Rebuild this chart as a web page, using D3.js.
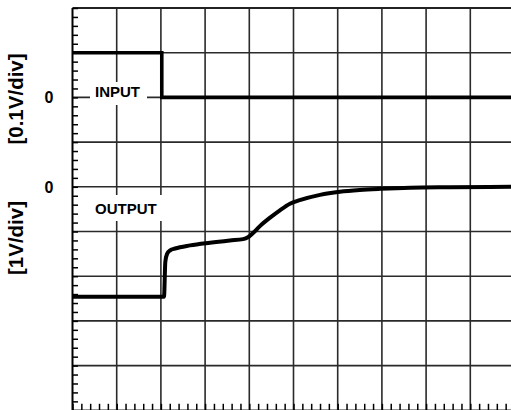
<!DOCTYPE html>
<html>
<head>
<meta charset="utf-8">
<script src="https://cdn.jsdelivr.net/npm/d3@7/dist/d3.min.js"></script>
<style>
  html, body { margin: 0; padding: 0; background: #fff; }
  svg { display: block; }
  text { font-family: "Liberation Sans", Arial, sans-serif; font-weight: bold; fill: #000; }
</style>
</head>
<body>
<svg id="chart" width="511" height="410"></svg>
<script>
// Time axis in divisions (10 horizontal divisions)
const inputTime = [0, 2.02, 2.02, 10];
const inputVolts = [0.1, 0.1, 0, 0];          // input channel, 0.1 V/div

const outputTime = [0, 2.07, 2.1, 2.14, 2.21, 2.32, 2.66, 3.11, 3.56, 3.86, 3.97,
                    4.09, 4.24, 4.47, 4.70, 4.92, 5.14, 5.60, 6.05, 6.50, 6.96,
                    7.64, 8.54, 10];
const outputVolts = [-2.46, -2.46, -1.68, -1.50, -1.42, -1.38, -1.31, -1.25, -1.20, -1.17, -1.13,
                     -1.03, -0.88, -0.69, -0.52, -0.38, -0.30, -0.18, -0.11, -0.07, -0.045,
                     -0.02, -0.01, 0];

const axisLabels = ["[0.1V/div]", "[1V/div]"];
const zeroLabels = ["0", "0"];
const traceNames = ["INPUT", "OUTPUT"];

const svg = d3.select("#chart");

// Graticule geometry
const gridLeft = 72.5, divW = 44.2, gridTop = 8, divH = 44.7;
const nx = 10, ny = 9;

const x = d3.scaleLinear().domain([0, nx]).range([gridLeft, gridLeft + nx * divW]);
const yDiv = d3.scaleLinear().domain([0, ny]).range([gridTop, gridTop + ny * divH]);
// Channel scales: input zero at division 2, output zero at division 4
const yIn = d3.scaleLinear().domain([0, 0.1]).range([yDiv(2), yDiv(1)]);
const yOut = d3.scaleLinear().domain([0, 1]).range([yDiv(4), yDiv(3)]);

const grid = svg.append("g").attr("stroke", "#2a2a2a").attr("stroke-width", 1.6);
grid.selectAll("line.v").data(d3.range(1, nx + 1)).join("line")
  .attr("x1", d => x(d)).attr("x2", d => x(d))
  .attr("y1", yDiv(0)).attr("y2", yDiv(ny));
grid.selectAll("line.h").data(d3.range(1, ny + 1)).join("line")
  .attr("x1", x(0)).attr("x2", x(nx))
  .attr("y1", d => yDiv(d)).attr("y2", d => yDiv(d));

// Border (top and left)
svg.append("line").attr("x1", x(0)).attr("x2", x(nx)).attr("y1", yDiv(0)).attr("y2", yDiv(0))
  .attr("stroke", "#222").attr("stroke-width", 2);
svg.append("line").attr("x1", x(0)).attr("x2", x(0)).attr("y1", yDiv(0)).attr("y2", yDiv(ny))
  .attr("stroke", "#000").attr("stroke-width", 2);

// Minor ticks: left edge pointing right, bottom edge pointing up
const leftAxis = d3.axisRight(yDiv).tickValues(d3.range(0, ny + 0.001, 0.2)).tickSize(5.5).tickFormat("");
svg.append("g").attr("transform", `translate(${x(0)},0)`).call(leftAxis)
  .call(g => g.select(".domain").remove())
  .selectAll("line").attr("stroke", "#000").attr("stroke-width", 1.5);
const bottomAxis = d3.axisTop(x).tickValues(d3.range(0, nx + 0.001, 0.2)).tickSize(6.5).tickFormat("");
svg.append("g").attr("transform", `translate(0,${yDiv(ny)})`).call(bottomAxis)
  .call(g => g.select(".domain").remove())
  .selectAll("line").attr("stroke", "#000").attr("stroke-width", 1.5);

// Label backgrounds
svg.append("rect").attr("x", 90).attr("y", 82).attr("width", 57).attr("height", 23).attr("fill", "#fff");
svg.append("rect").attr("x", 90).attr("y", 195).attr("width", 75).attr("height", 26).attr("fill", "#fff");

svg.append("text").attr("x", 95).attr("y", yIn(0) - 0.5).attr("font-size", 15).text(traceNames[0]);
svg.append("text").attr("x", 95).attr("y", 213.5).attr("font-size", 15).text(traceNames[1]);

// Zero reference labels
svg.append("text").attr("x", 49).attr("y", yIn(0) + 6).attr("font-size", 16)
  .attr("text-anchor", "middle").text(zeroLabels[0]);
svg.append("text").attr("x", 49).attr("y", yOut(0) + 6).attr("font-size", 16)
  .attr("text-anchor", "middle").text(zeroLabels[1]);

// Vertical scale labels
svg.append("text").attr("transform", `translate(15.5,99) rotate(-90)`)
  .attr("font-size", 20.5).attr("text-anchor", "middle").attr("dominant-baseline", "central")
  .text(axisLabels[0]);
svg.append("text").attr("transform", `translate(15.5,238) rotate(-90)`)
  .attr("font-size", 20.5).attr("text-anchor", "middle").attr("dominant-baseline", "central")
  .text(axisLabels[1]);

// Traces
const inLine = d3.line().x(i => x(inputTime[i])).y(i => yIn(inputVolts[i]));
svg.append("path").attr("d", inLine(d3.range(inputTime.length)))
  .attr("fill", "none").attr("stroke", "#000").attr("stroke-width", 3.6)
  .attr("stroke-linejoin", "miter");

const outLine = d3.line().x(i => x(outputTime[i])).y(i => yOut(outputVolts[i])).curve(d3.curveMonotoneX);
svg.append("path").attr("d", outLine(d3.range(outputTime.length)))
  .attr("fill", "none").attr("stroke", "#000").attr("stroke-width", 4)
  .attr("stroke-linejoin", "round");
</script>
</body>
</html>
